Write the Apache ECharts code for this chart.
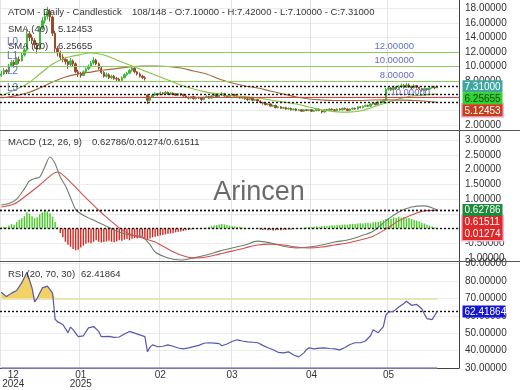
<!DOCTYPE html>
<html><head><meta charset="utf-8">
<script src="https://cdn.jsdelivr.net/npm/echarts@6/dist/echarts.min.js"></script>
<style>html,body{margin:0;padding:0;background:#fff}#c{width:520px;height:390px}</style>
</head><body><div id="c"></div>
<script>
const FONT = '"Liberation Sans", Arial, sans-serif';

// ---------- categories (daily, Dec 1 2024 onward) ----------
const firstDay = [2024, 11, 1];
const dayCount = 179;
const days = [];
for (let k = 0; k < dayCount; k++) {
  days.push(new Date(Date.UTC(firstDay[0], firstDay[1], firstDay[2] + k)).toISOString().slice(0, 10));
}
// month tick labels
const monthTicks = {
  '2024-12-01': ['12', '2024'], '2025-01-01': ['01', '2025'], '2025-02-01': ['02'],
  '2025-03-01': ['03'], '2025-04-01': ['04'], '2025-05-01': ['05']
};
const priceTicks = [2, 4, 6, 8, 10, 12, 14, 16, 18];
const macdTicks = [-1, -0.5, 0, 0.5, 1, 1.5, 2, 2.5, 3];
const rsiTicks = [30, 40, 50, 60, 70, 80, 90];

// ---------- candles [open, close, low, high] ----------
const ohlc = [
[8.8,9.0,8.6,9.4],[9.0,9.5,8.9,9.8],[9.5,9.3,9.0,9.7],[9.3,10.1,9.2,10.4],[10.1,10.6,9.9,10.9],
[10.6,10.3,10.0,10.9],[10.3,11.0,10.2,11.3],[11.0,10.8,10.4,11.4],[10.8,11.6,10.7,11.9],[11.6,12.3,11.4,12.6],
[12.3,14.5,12.1,15.0],[14.5,14.0,13.5,14.9],[14.0,13.6,13.1,14.4],[13.6,13.0,12.5,13.9],[13.0,12.4,11.8,13.3],
[12.4,15.2,12.3,15.6],[15.2,16.3,15.0,16.8],[16.3,16.9,15.9,17.4],[16.9,17.6,16.5,18.2],[17.6,16.8,16.2,17.9],
[16.8,14.6,14.2,17.0],[14.6,12.5,12.0,14.9],[12.5,11.9,11.4,12.8],[11.9,11.3,10.9,12.2],[11.3,11.0,10.6,11.7],
[11.0,10.7,10.3,11.3],[10.7,10.3,9.7,11.0],[10.3,10.8,10.0,11.2],[10.8,10.4,10.1,11.0],[10.4,9.3,9.1,10.6],
[9.3,9.0,8.6,9.6],[9.0,8.8,8.5,9.3],[8.8,9.3,8.7,9.5],[9.3,9.7,9.1,9.9],[9.7,10.1,9.5,10.3],
[10.1,10.5,9.9,10.8],[10.5,10.9,10.3,11.3],[10.9,10.4,10.2,11.1],[10.4,9.8,9.6,10.6],[9.8,9.2,9.0,10.0],
[9.2,8.7,8.5,9.4],[8.7,8.9,8.5,9.2],[8.9,8.5,8.3,9.1],[8.5,8.7,8.3,8.9],[8.7,8.4,8.2,8.9],
[8.4,8.3,8.0,8.6],[8.3,8.1,7.9,8.5],[8.1,8.5,8.0,8.7],[8.5,8.9,8.4,9.1],[8.9,9.1,8.7,9.3],
[9.1,9.5,9.0,9.7],[9.5,9.8,9.3,10.1],[9.8,9.3,9.1,9.9],[9.3,9.0,8.8,9.4],[9.0,8.7,8.5,9.2],
[8.7,8.5,8.3,8.9],[8.5,8.4,8.1,8.7],[6.1,5.4,4.9,6.2],[5.4,5.8,5.3,6.0],[5.8,6.1,5.7,6.3],
[6.1,6.3,6.0,6.5],[6.3,6.2,6.0,6.4],[6.2,6.4,6.1,6.6],[6.4,6.3,6.1,6.5],[6.3,6.5,6.2,6.7],
[6.5,6.2,6.1,6.6],[6.2,6.4,6.1,6.5],[6.4,6.3,6.2,6.5],[6.3,6.1,6.0,6.4],[6.1,6.3,6.0,6.4],
[6.3,6.2,6.0,6.4],[6.2,6.0,5.9,6.3],[6.0,5.8,5.7,6.1],[5.8,5.7,5.5,5.9],[5.7,5.9,5.6,6.0],
[5.9,5.6,5.5,6.0],[5.6,5.8,5.5,5.9],[5.8,5.7,5.6,5.9],[5.7,5.5,5.3,5.8],[5.5,5.8,5.4,5.9],
[5.8,5.9,5.7,6.1],[5.9,5.7,5.6,6.0],[5.7,6.0,5.6,6.1],[6.0,6.2,5.9,6.4],[6.2,5.9,5.8,6.3],
[5.9,6.1,5.8,6.2],[6.1,6.3,6.0,6.5],[6.3,6.0,5.9,6.4],[6.0,5.9,5.7,6.1],[5.9,6.1,5.8,6.2],
[6.1,6.2,6.0,6.4],[6.2,6.0,5.9,6.3],[6.0,5.9,5.8,6.1],[5.9,5.7,5.6,6.0],[5.7,5.8,5.6,5.9],
[5.8,5.6,5.5,5.9],[5.6,5.5,5.3,5.7],[5.5,5.7,5.4,5.8],[5.7,5.4,5.3,5.8],[5.4,5.5,5.3,5.6],
[5.5,5.3,5.2,5.6],[5.3,5.1,5.0,5.4],[5.1,5.0,4.8,5.2],[5.0,4.8,4.7,5.1],[4.8,4.9,4.7,5.0],
[4.9,4.6,4.5,5.0],[4.6,4.7,4.5,4.8],[4.7,4.4,4.3,4.8],[4.4,4.5,4.3,4.6],[4.5,4.3,4.2,4.6],
[4.3,4.4,4.2,4.5],[4.4,4.2,4.1,4.5],[4.2,4.3,4.1,4.4],[4.3,4.1,4.0,4.4],[4.1,4.2,4.0,4.3],
[4.2,4.0,3.9,4.3],[4.0,4.1,3.9,4.2],[4.1,3.9,3.8,4.2],[3.9,4.1,3.8,4.2],[4.1,4.0,3.9,4.2],
[4.0,4.1,3.9,4.2],[4.1,3.9,3.8,4.2],[3.9,4.0,3.8,4.1],[4.0,4.2,3.9,4.3],[4.2,4.0,3.9,4.3],
[4.0,3.8,3.6,4.1],[3.8,4.1,3.7,4.2],[4.1,4.0,3.9,4.2],[4.0,4.2,3.9,4.3],[4.2,4.1,4.0,4.3],
[4.1,4.0,3.9,4.2],[4.0,4.2,3.9,4.3],[4.2,4.1,4.0,4.3],[4.1,4.3,4.0,4.4],[4.3,4.2,4.1,4.4],
[4.2,4.0,3.9,4.3],[4.0,4.2,3.9,4.3],[4.2,4.3,4.1,4.4],[4.3,4.2,4.1,4.4],[4.2,4.5,4.1,4.6],
[4.5,4.4,4.3,4.6],[4.4,4.6,4.3,4.7],[4.6,4.7,4.5,4.8],[4.7,4.6,4.5,4.8],[4.6,4.9,4.5,5.0],
[4.9,5.0,4.8,5.1],[5.0,4.8,4.7,5.1],[4.8,5.2,4.7,5.3],[5.2,5.1,5.0,5.3],[5.1,5.4,5.0,5.5],
[5.4,6.9,5.3,7.1],[6.9,7.1,6.7,7.3],[7.1,6.9,6.7,7.2],[6.9,7.2,6.8,7.4],[7.2,7.0,6.8,7.3],
[7.0,7.3,6.9,7.5],[7.3,7.4,7.1,7.7],[7.4,7.2,7.0,7.6],[7.2,7.5,7.1,7.8],[7.5,7.3,7.1,7.7],
[7.3,7.1,6.9,7.4],[7.1,7.4,7.0,7.6],[7.4,7.2,7.0,7.5],[7.2,7.0,6.8,7.3],[7.0,6.8,6.6,7.1],
[6.8,7.0,6.7,7.2],[7.0,6.9,6.7,7.1],[6.9,7.1,6.8,7.3],[7.1,7.2,7.0,7.4],[7.2,7.1,6.9,7.3],
[7.10,7.31,7.10,7.42]
];

// ---------- moving averages [dayIndex, value] ----------
const sma20 = [[0,5.99],[5,6.81],[10,7.63],[15,9.0],[20,10.37],[25,11.19],[30,11.6],[35,11.88],[40,11.6],[45,10.92],
[50,10.23],[55,9.55],[60,8.86],[65,8.18],[70,7.49],[75,6.95],[80,6.53],[85,6.26],[90,5.99],[95,5.92],[100,5.71],
[105,5.44],[110,5.16],[115,4.89],[120,4.48],[125,4.07],[130,3.86],[135,3.79],[140,3.93],[145,4.48],[150,5.03],
[155,5.58],[160,5.99],[165,6.12],[170,6.25655]];
const sma40 = [[0,5.71],[5,5.99],[10,6.40],[15,7.08],[20,7.90],[25,8.59],[30,9.0],[35,9.27],[40,9.55],[45,9.75],
[50,9.96],[55,10.1],[60,10.1],[65,10.03],[70,9.82],[75,9.41],[80,9.0],[85,8.32],[90,7.77],[95,7.36],[100,7.08],
[105,6.67],[110,6.26],[115,5.85],[120,5.58],[125,5.44],[130,5.37],[135,5.37],[140,5.37],[145,5.44],[150,5.45],
[155,5.42],[160,5.38],[165,5.3],[170,5.12453]];

// ---------- horizontal levels ----------
const greenLevels = [12, 10, 8];
const redLevel = 5.8;
const lastClose = 7.31, lastSma20 = 6.25655, lastSma40 = 5.12453;

// ---------- MACD ----------
const macdLine = [[0,0.80],[3,0.85],[6,1.0],[9,1.35],[11,1.62],[13,1.70],[15,1.75],[17,2.1],[19,2.43],[21,2.2],
[23,1.75],[25,1.45],[27,1.05],[29,0.65],[31,0.5],[35,0.32],[40,0.12],[45,-0.09],[50,-0.22],[55,-0.29],[58,-0.55],
[60,-0.80],[65,-1.0],[70,-1.07],[75,-1.0],[80,-0.90],[85,-0.77],[90,-0.66],[95,-0.56],[100,-0.43],[105,-0.49],
[110,-0.60],[115,-0.66],[120,-0.63],[125,-0.56],[130,-0.46],[135,-0.39],[140,-0.26],[145,-0.09],[150,0.26],
[155,0.56],[160,0.73],[165,0.77],[170,0.62786]];
const macdSignal = [[0,0.73],[5,0.83],[10,1.14],[15,1.48],[20,1.85],[22,1.92],[25,1.75],[30,1.31],[35,0.87],
[40,0.46],[45,0.09],[50,-0.19],[55,-0.32],[60,-0.46],[65,-0.70],[70,-0.90],[75,-1.0],[80,-0.97],[85,-0.87],
[90,-0.77],[95,-0.66],[100,-0.56],[105,-0.53],[110,-0.56],[115,-0.63],[120,-0.66],[125,-0.63],[130,-0.56],
[135,-0.49],[140,-0.39],[145,-0.26],[150,-0.02],[155,0.26],[160,0.46],[165,0.60],[170,0.61511]];
const macdHist = [0.04,0.06,0.05,0.10,0.15,0.13,0.22,0.30,0.35,0.42,
0.55,0.50,0.42,0.35,0.38,0.48,0.55,0.60,0.58,0.52,0.40,0.22,0.05,
-0.15,-0.30,-0.45,-0.55,-0.62,-0.70,-0.74,-0.72,
-0.65,-0.58,-0.52,-0.48,-0.50,-0.45,-0.40,-0.45,-0.48,-0.46,
-0.44,-0.42,-0.45,-0.47,-0.44,-0.40,-0.42,-0.38,-0.36,-0.40,
-0.35,-0.32,-0.34,-0.30,-0.28,-0.33,-0.38,-0.34,-0.30,-0.28,
-0.26,-0.24,-0.22,-0.20,-0.18,-0.17,-0.15,-0.13,-0.11,-0.10,
-0.08,-0.06,-0.05,-0.03,-0.02,-0.01,0.01,0.02,0.02,0.03,
0.06,0.08,0.10,0.12,0.14,0.15,0.14,0.12,0.10,0.08,
0.07,0.05,0.06,0.04,0.03,0.02,0.03,0.01,0.00,-0.02,
-0.03,-0.05,-0.04,-0.06,-0.05,-0.07,-0.06,-0.05,-0.06,-0.04,
-0.05,-0.03,-0.04,-0.02,-0.01,0.01,0.02,0.03,0.04,0.05,
0.05,0.06,0.07,0.06,0.08,0.09,0.08,0.10,0.11,0.10,
0.12,0.11,0.13,0.14,0.13,0.15,0.16,0.15,0.17,0.18,
0.17,0.19,0.20,0.18,0.21,0.23,0.22,0.25,0.28,0.32,
0.35,0.33,0.38,0.36,0.40,0.37,0.39,0.35,0.36,0.32,
0.30,0.27,0.24,0.20,0.17,0.13,0.10,0.07,0.04,0.01274];

// ---------- RSI [dayIndex, value] ----------
const rsi = [[0,73.5],[2,71],[4,73],[6,74.5],[8,79],[10,85],[12,76],[13,68],[14,70],[16,76],[18,77],[20,73],[21,58],
[22,56.5],[24,55],[26,50.3],[27,53.5],[28,52],[30,48],[32,48.5],[34,53],[36,53.8],[38,51],[39,48],[40,48],[42,48.2],
[44,47.6],[46,47.8],[48,49.5],[50,51],[52,50],[54,49],[56,48],[57,39.3],[58,42],[59,43.3],[61,42.2],[63,42.5],
[65,43.3],[67,42.5],[69,41.5],[71,41],[73,41.6],[75,42.3],[77,43],[79,44.2],[81,44.5],[83,44.3],[85,44],[86,42.8],
[88,43.8],[90,45.2],[92,46.2],[94,45.5],[96,45],[98,44.8],[100,44.5],[102,43],[104,41.6],[106,40.5],[108,39],
[110,38.7],[112,39.3],[114,37.5],[116,36.4],[118,38.7],[119,40.5],[120,41.6],[122,41],[124,41.4],[126,41.6],
[128,41.2],[130,41],[132,40.4],[134,41.8],[136,43.5],[138,44.5],[140,44.5],[142,45.5],[144,48.5],[145,52],
[147,50.3],[149,53.8],[150,60.5],[151,62],[153,62.5],[155,65],[157,67],[158,68.3],[160,66],[162,66.5],[164,64],
[165,61],[166,58.4],[168,57.8],[170,62.41864]];
const rsiHigh = 70, rsiLow = 30;
const lastIndex = 170;

// ---------- chart ----------
const chart = echarts.init(document.getElementById('c'), null, {renderer: 'canvas', width: 520, height: 390});
const AX = '#444';
const monthInterval = (idx, val) => !!monthTicks[val];

function xa(gi) {
  const o = {
    type: 'category', gridIndex: gi, data: days, boundaryGap: true,
    axisLine: {show: gi === 2, lineStyle: {color: AX}}, axisTick: {show: false},
    axisLabel: {show: false},
    splitLine: {show: true, interval: monthInterval, lineStyle: {color: '#e3e3e3'}}
  };
  if (gi === 2) {
    o.axisLabel = {
      show: true, interval: monthInterval, margin: 3, color: '#333', fontSize: 10, lineHeight: 9,
      fontFamily: FONT,
      formatter: (val, idx) => {
        const m = monthTicks[val];
        if (!m) return '';
        return idx === 0 ? m.map(s => '{f|' + s + '}').join('\n') : m.join('\n');
      },
      rich: {f: {padding: [0, 0, 0, 24], fontSize: 10, lineHeight: 9, color: '#333', fontFamily: FONT}}
    };
  }
  return o;
}
function ya(gi, min, max, ticks) {
  return {
    type: 'value', gridIndex: gi, position: 'right', min, max,
    axisLine: {show: true, lineStyle: {color: AX}},
    axisTick: {show: false, customValues: ticks},
    axisLabel: {customValues: ticks, formatter: v => v.toFixed(5), margin: 6, color: '#333',
      fontSize: 10, fontFamily: FONT},
    splitLine: {show: true, lineStyle: {color: '#ececec'}}
  };
}
const dotted = v => ({yAxis: v, lineStyle: {type: [2, 2], width: 1.4, color: '#111'}});
const solid = (v, c) => ({yAxis: v, lineStyle: {type: 'solid', width: 1, color: c}});

const grids = [
  {left: 0, top: 0, width: 459, height: 130},
  {left: 0, top: 130, width: 459, height: 131},
  {left: 0, top: 261, width: 459, height: 107}
].map(g => Object.assign(g, {containLabel: false, outerBoundsMode: 'none'}));

const rsiFillPts = rsi.filter(p => p[0] <= 21);

chart.setOption({
  animation: false,
  textStyle: {fontFamily: FONT},
  grid: grids,
  xAxis: [xa(0), xa(1), xa(2)],
  yAxis: [ya(0, 1.33, 19.14, priceTicks), ya(1, -1.105, 3.35, macdTicks), ya(2, 30, 91.45, rsiTicks)],
  series: [
    {
      type: 'candlestick', xAxisIndex: 0, yAxisIndex: 0, data: ohlc, barWidth: '75%',
      itemStyle: {color: '#3cb83c', color0: '#9a4a2c', borderColor: '#3cb83c', borderColor0: '#9a4a2c', borderWidth: 1},
      markLine: {
        silent: true, symbol: 'none', label: {show: false},
        data: greenLevels.map(v => solid(v, '#8ccd5c')).concat([
          solid(redLevel, '#d04444'), dotted(lastClose), dotted(lastSma20), dotted(lastSma40)])
      }
    },
    {type: 'line', xAxisIndex: 0, yAxisIndex: 0, data: sma20, showSymbol: false, smooth: 0.4,
      lineStyle: {color: '#86c548', width: 1.2}},
    {type: 'line', xAxisIndex: 0, yAxisIndex: 0, data: sma40, showSymbol: false, smooth: 0.4,
      lineStyle: {color: '#a5673e', width: 1.2}},
    {
      type: 'bar', xAxisIndex: 1, yAxisIndex: 1, data: macdHist, barWidth: '55%',
      itemStyle: {color: p => p.value >= 0 ? '#44cc22' : (p.value > -0.1 ? '#8b2a12' : '#d8261e')},
      markLine: {silent: true, symbol: 'none', label: {show: false},
        data: [dotted(0.62786), dotted(0.61511), dotted(0.01274)]}
    },
    {type: 'line', xAxisIndex: 1, yAxisIndex: 1, data: macdLine, showSymbol: false, smooth: 0.3,
      lineStyle: {color: '#6e7f6e', width: 1.1}},
    {type: 'line', xAxisIndex: 1, yAxisIndex: 1, data: macdSignal, showSymbol: false, smooth: 0.3,
      lineStyle: {color: '#d25050', width: 1.1}},
    {type: 'line', xAxisIndex: 2, yAxisIndex: 2, stack: 'rsiFill', data: rsiFillPts.map(p => [p[0], rsiHigh]),
      showSymbol: false, lineStyle: {opacity: 0}, silent: true},
    {type: 'line', xAxisIndex: 2, yAxisIndex: 2, stack: 'rsiFill',
      data: rsiFillPts.map(p => [p[0], Math.max(p[1] - rsiHigh, 0)]),
      showSymbol: false, lineStyle: {opacity: 0}, areaStyle: {color: '#f2d264', opacity: 1}, silent: true},
    {
      type: 'line', xAxisIndex: 2, yAxisIndex: 2, data: rsi, showSymbol: false,
      lineStyle: {color: '#5656b0', width: 1.2}, z: 5,
      markLine: {silent: true, symbol: 'none', label: {show: false}, data: [
        [{coord: [0, rsiHigh], lineStyle: {color: '#e6df9e', width: 1.5, type: 'solid'}}, {coord: [lastIndex, rsiHigh]}],
        [{coord: [0, rsiLow], lineStyle: {color: '#8a8ac8', width: 1.5, type: 'solid'}}, {coord: [lastIndex, rsiLow]}],
        dotted(62.41864)
      ]}
    }
  ]
});

// ---------- texts, badges ----------
const py = (ai, v) => chart.convertToPixel({yAxisIndex: ai}, v);
const g = [];
const txt = (text, x, y, opt) => g.push(Object.assign({type: 'text', z: 50, silent: true,
  style: Object.assign({text, x, y, fill: '#333', font: '9.5px ' + FONT, textVerticalAlign: 'middle'}, opt || {})}));

// separators across full width
[130.5, 261.5].forEach(y => g.push({type: 'line', z: 40, silent: true,
  shape: {x1: 0, y1: y, x2: 520, y2: y}, style: {stroke: '#555', lineWidth: 1}}));

// watermark
g.push({type: 'text', z: 1, silent: true, style: {text: 'Arincen', x: 259, y: 193, fill: 'rgba(90,90,90,0.9)',
  font: '27px ' + FONT, textAlign: 'center', textVerticalAlign: 'middle'}});

txt('ATOM - Daily - Candlestick', 8, 12.5);
txt('108/148 - O:7.10000 - H:7.42000 - L:7.10000 - C:7.31000', 132, 12.5);
txt('SMA (40)', 8, 29.5); txt(lastSma40.toFixed(5), 58, 29.5);
txt('SMA (20)', 8, 46); txt(lastSma20.toFixed(5), 58, 46);
txt('MACD (12, 26, 9)', 8, 142.7); txt('0.62786/0.01274/0.61511', 92, 142.7);
txt('RSI (20, 70, 30)', 8, 274); txt('62.41864', 81, 274);

// level labels
const levelBlue = '#5f6fc4';
greenLevels.forEach((v, k) => {
  const y = py(0, v);
  txt(v.toFixed(5), 414, y - 6, {fill: levelBlue, textAlign: 'right'});
  txt('L' + k, 7, y - 10, {fill: levelBlue, font: '10px ' + FONT});
});
{
  const y = py(0, redLevel);
  txt('10.00000', 430, y - 5, {fill: levelBlue, textAlign: 'right'});
  txt('L3', 7, y - 9, {fill: levelBlue, font: '10px ' + FONT});
}

// value badges with overlap avoidance
function badges(ai, list, w) {
  const H = 12;
  let prevBottom = -1e9;
  list.map(b => Object.assign({py: py(ai, b.v)}, b)).sort((a, b) => a.py - b.py).forEach(b => {
    let top = Math.max(b.py - H / 2, prevBottom);
    prevBottom = top + H;
    if (b.edge) g.push({type: 'rect', z: 59, silent: true, shape: {x: 461, y: top - 1.5, width: w + 3, height: H + 3},
      style: {fill: b.edge}});
    g.push({type: 'rect', z: 60, silent: true, shape: {x: 462.5, y: top, width: w, height: H}, style: {fill: b.bg}});
    g.push({type: 'text', z: 61, silent: true, style: {text: b.v.toFixed(5), x: 464.5, y: top + H / 2 + 0.5,
      fill: b.fg, font: '10px ' + FONT, textVerticalAlign: 'middle'}});
  });
}
badges(0, [
  {v: lastClose, bg: '#3ea69e', fg: '#ffffff'},
  {v: lastSma20, bg: '#2fd42f', fg: '#1d3a1d'},
  {v: lastSma40, bg: '#c63f1c', fg: '#ffffff', edge: '#f5b3cf'}
], 40);
badges(1, [
  {v: 0.62786, bg: '#1d8a3b', fg: '#ffffff'},
  {v: 0.61511, bg: '#e0282a', fg: '#ffffff', edge: '#f5b3cf'},
  {v: 0.01274, bg: '#e0282a', fg: '#ffffff', edge: '#f5b3cf'}
], 40);
badges(2, [{v: 62.41864, bg: '#1616d6', fg: '#ffffff'}], 43);

chart.setOption({graphic: g});
</script></body></html>
